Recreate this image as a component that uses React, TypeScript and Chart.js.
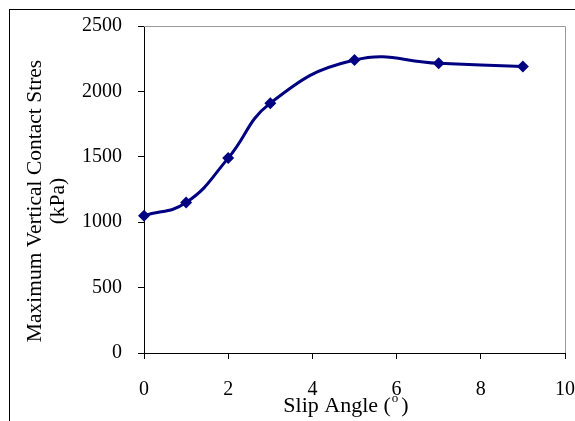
import { useEffect, useRef } from 'react';
import { Chart, registerables } from 'chart.js';

Chart.register(...registerables);

const slipAngles = [0, 1, 2, 3, 5, 7, 9];
const contactStress = [1050, 1150, 1490, 1910, 2240, 2215, 2190];
const xRange = [0, 10];
const xStep = 2;
const yRange = [0, 2500];
const yStep = 500;
const xTitleParts = ['Slip Angle (', 'o', ')'];
const yTitleLines = ['Maximum Vertical Contact Stres', '(kPa)'];

const FONT = "'Liberation Serif', 'Times New Roman', serif";
const NAVY = '#000080';

const decorPlugin = {
  id: 'decor',
  beforeDatasetsDraw(chart: any) {
    const { ctx, chartArea } = chart;
    const { left, top, right, bottom } = chartArea;
    ctx.save();
    ctx.strokeStyle = '#999999';
    ctx.lineWidth = 1;
    ctx.beginPath();
    ctx.moveTo(left, top + 0.5);
    ctx.lineTo(right + 0.5, top + 0.5);
    ctx.lineTo(right + 0.5, bottom);
    ctx.stroke();
    ctx.restore();
  },
  afterDraw(chart: any) {
    const { ctx } = chart;
    ctx.save();
    ctx.strokeStyle = '#000';
    ctx.lineWidth = 1;
    ctx.strokeRect(9.5, 9.5, 800, 800);

    ctx.fillStyle = '#000';
    ctx.font = `21.5px ${FONT}`;
    ctx.textAlign = 'center';
    ctx.textBaseline = 'alphabetic';
    const cy = 201;
    const baselines = [41, 64];
    yTitleLines.forEach((line, i) => {
      ctx.save();
      ctx.translate(baselines[i], cy);
      ctx.rotate(-Math.PI / 2);
      ctx.fillText(line, 0, 0);
      ctx.restore();
    });

    ctx.textAlign = 'left';
    const mainFont = `22px ${FONT}`;
    const supFont = `13px ${FONT}`;
    ctx.font = mainFont;
    const w0 = ctx.measureText(xTitleParts[0]).width;
    const w2 = ctx.measureText(xTitleParts[2]).width;
    ctx.font = supFont;
    const w1 = ctx.measureText(xTitleParts[1]).width;
    const gap = 4;
    const total = w0 + w1 + gap + w2;
    const startX = 346 - total / 2;
    const base = 412;
    ctx.font = mainFont;
    ctx.fillText(xTitleParts[0], startX, base);
    ctx.font = supFont;
    ctx.fillText(xTitleParts[1], startX + w0 + 1, base - 10);
    ctx.font = mainFont;
    ctx.fillText(xTitleParts[2], startX + w0 + w1 + gap, base);
    ctx.restore();
  },
};

export default function App() {
  const ref = useRef<HTMLCanvasElement>(null);
  useEffect(() => {
    if (!ref.current) return;
    const chart = new Chart(ref.current, {
      type: 'line',
      data: {
        datasets: [
          {
            data: slipAngles.map((x, i) => ({ x, y: contactStress[i] })),
            borderColor: NAVY,
            backgroundColor: NAVY,
            borderWidth: 3,
            pointStyle: 'rectRot',
            pointRadius: 6,
            pointBackgroundColor: NAVY,
            pointBorderColor: NAVY,
            pointBorderWidth: 0,
            tension: 0.45,
            clip: false as any,
          },
        ],
      },
      plugins: [decorPlugin],
      options: {
        responsive: false,
        animation: false,
        layout: { padding: { left: 0, top: 26, right: 10, bottom: 0 } },
        plugins: { legend: { display: false }, tooltip: { enabled: false } },
        scales: {
          x: {
            type: 'linear',
            min: xRange[0],
            max: xRange[1],
            ticks: {
              stepSize: xStep,
              font: { family: FONT, size: 20 },
              color: '#000',
              padding: 19,
              maxRotation: 0,
              callback: (v: any) => String(v),
            },
            grid: { drawOnChartArea: false, tickLength: 6, color: '#000', lineWidth: 1 },
            border: { color: '#000', width: 1 },
            afterFit: (scale: any) => {
              scale.height = 68;
              scale.paddingLeft = 0;
              scale.paddingRight = 0;
            },
          },
          y: {
            min: yRange[0],
            max: yRange[1],
            ticks: {
              stepSize: yStep,
              font: { family: FONT, size: 20 },
              color: '#000',
              padding: 16,
              callback: (v: any) => String(v),
            },
            grid: { drawOnChartArea: false, tickLength: 6, color: '#000', lineWidth: 1 },
            border: { color: '#000', width: 1 },
            afterFit: (scale: any) => {
              scale.width = 144;
              scale.paddingTop = 0;
              scale.paddingBottom = 0;
            },
          },
        },
      },
    });
    return () => chart.destroy();
  }, []);
  return (
    <div style={{ position: 'fixed', left: 0, top: 0, width: 575, height: 421, background: '#fff' }}>
      <canvas ref={ref} width={575} height={421} style={{ display: 'block' }} />
    </div>
  );
}
